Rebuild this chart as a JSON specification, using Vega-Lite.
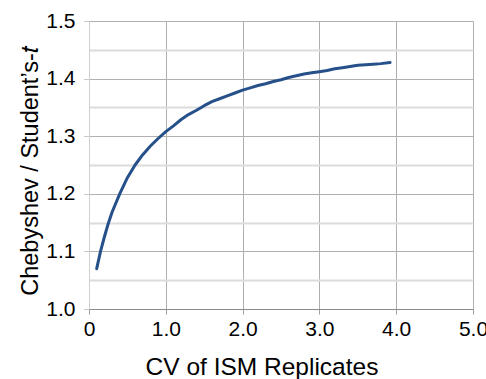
{
  "$schema": "https://vega.github.io/schema/vega-lite/v6.json",
  "width": 384,
  "height": 288,
  "autosize": "none",
  "padding": {"left": 89, "top": 21, "right": 13, "bottom": 70},
  "background": "white",
  "config": {
    "font": "Liberation Sans",
    "view": {"stroke": null}
  },
  "data": {
    "values": [
      {"cv": 0.1, "ratio": 1.070},
      {"cv": 0.15, "ratio": 1.100},
      {"cv": 0.2, "ratio": 1.125},
      {"cv": 0.25, "ratio": 1.148},
      {"cv": 0.3, "ratio": 1.168},
      {"cv": 0.4, "ratio": 1.200},
      {"cv": 0.5, "ratio": 1.228},
      {"cv": 0.6, "ratio": 1.250},
      {"cv": 0.7, "ratio": 1.268},
      {"cv": 0.8, "ratio": 1.283},
      {"cv": 0.9, "ratio": 1.296},
      {"cv": 1.0, "ratio": 1.308},
      {"cv": 1.1, "ratio": 1.318},
      {"cv": 1.2, "ratio": 1.329},
      {"cv": 1.3, "ratio": 1.338},
      {"cv": 1.4, "ratio": 1.345},
      {"cv": 1.5, "ratio": 1.353},
      {"cv": 1.6, "ratio": 1.360},
      {"cv": 1.7, "ratio": 1.365},
      {"cv": 1.8, "ratio": 1.370},
      {"cv": 1.9, "ratio": 1.375},
      {"cv": 2.0, "ratio": 1.380},
      {"cv": 2.1, "ratio": 1.384},
      {"cv": 2.2, "ratio": 1.388},
      {"cv": 2.3, "ratio": 1.391},
      {"cv": 2.4, "ratio": 1.395},
      {"cv": 2.5, "ratio": 1.398},
      {"cv": 2.6, "ratio": 1.402},
      {"cv": 2.7, "ratio": 1.405},
      {"cv": 2.8, "ratio": 1.408},
      {"cv": 2.9, "ratio": 1.410},
      {"cv": 3.0, "ratio": 1.412},
      {"cv": 3.1, "ratio": 1.414},
      {"cv": 3.2, "ratio": 1.417},
      {"cv": 3.3, "ratio": 1.419},
      {"cv": 3.4, "ratio": 1.421},
      {"cv": 3.5, "ratio": 1.423},
      {"cv": 3.6, "ratio": 1.424},
      {"cv": 3.7, "ratio": 1.425},
      {"cv": 3.8, "ratio": 1.426},
      {"cv": 3.92, "ratio": 1.428}
    ]
  },
  "mark": {"type": "line", "color": "#26508a", "strokeWidth": 3, "strokeCap": "round", "strokeJoin": "round"},
  "encoding": {
    "x": {
      "field": "cv",
      "type": "quantitative",
      "scale": {"domain": [0, 5], "nice": false, "zero": false},
      "axis": {
        "title": "CV of ISM Replicates",
        "values": [0, 1, 2, 3, 4, 5],
        "labelExpr": "datum.value < 0.01 ? '0' : format(datum.value, '.1f')",
        "labelFont": "Liberation Sans",
        "labelFontSize": 21,
        "labelColor": "#000000",
        "labelPadding": 4,
        "labelFlush": false,
        "labelOverlap": false,
        "tickSize": 5,
        "tickColor": "#a0a0a0",
        "domainColor": "#8c8c8c",
        "domainWidth": 1,
        "grid": true,
        "gridColor": "#b0b0b0",
        "gridWidth": 1,
        "titleFont": "Liberation Sans",
        "titleFontSize": 24.5,
        "titleFontWeight": "normal",
        "titleColor": "#000000",
        "titleX": 172.5,
        "titleY": 65,
        "titleBaseline": "alphabetic"
      }
    },
    "y": {
      "field": "ratio",
      "type": "quantitative",
      "scale": {"domain": [1.0, 1.5], "nice": false, "zero": false},
      "axis": {
        "title": "Chebyshev / Student’s-𝑡",
        "values": [1.0, 1.05, 1.1, 1.15, 1.2, 1.25, 1.3, 1.35, 1.4, 1.45, 1.5],
        "labelExpr": "round(datum.value * 100) % 10 == 0 ? format(datum.value, '.1f') : ''",
        "labelFont": "Liberation Sans",
        "labelFontSize": 21,
        "labelColor": "#000000",
        "labelPadding": 9,
        "labelFlush": false,
        "labelOverlap": false,
        "tickSize": 5,
        "tickDash": [1, 1],
        "tickColor": {"condition": {"test": "round(datum.value * 100) % 10 == 0", "value": "#909090"}, "value": "transparent"},
        "domainColor": "#d0d0d0",
        "grid": true,
        "gridColor": {"condition": {"test": "round(datum.value * 100) % 10 == 0", "value": "#b0b0b0"}, "value": "#dcdcdc"},
        "gridWidth": {"condition": {"test": "round(datum.value * 100) % 10 == 0", "value": 1}, "value": 2},
        "titleFont": "Liberation Sans",
        "titleFontSize": 23.5,
        "titleFontWeight": "normal",
        "titleColor": "#000000",
        "titleX": -52,
        "titleY": 149.5,
        "titleBaseline": "alphabetic"
      }
    }
  }
}
